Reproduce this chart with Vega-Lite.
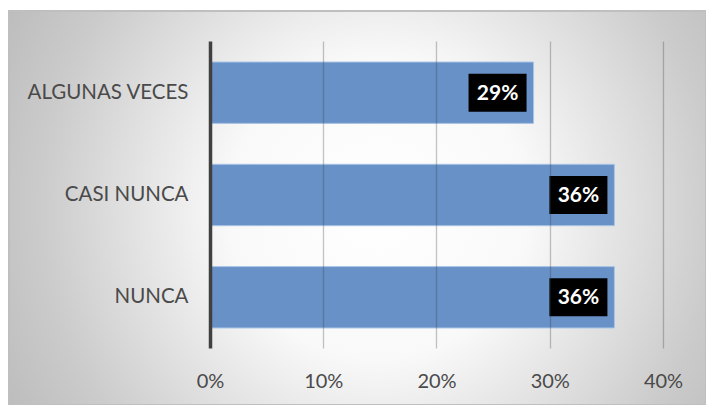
{
  "$schema": "https://vega.github.io/schema/vega-lite/v6.json",
  "width": 697,
  "height": 394,
  "padding": {"left": 9, "top": 11, "right": 0, "bottom": 0},
  "autosize": {"type": "none"},
  "background": "white",
  "config": {
    "font": "Lato",
    "view": {
      "stroke": "#bfbfbf",
      "strokeWidth": 2,
      "fill": {
        "gradient": "radial",
        "x1": 0.53, "y1": 0.5, "r1": 0,
        "x2": 0.53, "y2": 0.5, "r2": 0.6,
        "stops": [
          {"offset": 0, "color": "#ffffff"},
          {"offset": 0.36, "color": "#f9f9f9"},
          {"offset": 0.81, "color": "#cbcbcb"},
          {"offset": 1, "color": "#bdbdbd"}
        ]
      }
    }
  },
  "data": {
    "values": [
      {"cat": "ALGUNAS VECES", "value": 0.2857},
      {"cat": "CASI NUNCA", "value": 0.3571},
      {"cat": "NUNCA", "value": 0.3571}
    ]
  },
  "resolve": {"axis": {"x": "independent"}},
  "layer": [
    {
      "mark": {"type": "bar", "color": "#6891c7", "stroke": "#a9c4e6", "strokeWidth": 1},
      "encoding": {
        "y": {
          "field": "cat", "type": "nominal", "sort": null,
          "scale": {"paddingInner": 0.4, "paddingOuter": 0.6257, "align": 0.3984},
          "axis": {
            "title": null, "orient": "left", "offset": -179, "labelPadding": 0,
            "ticks": false, "domain": false, "grid": false,
            "labelFontSize": 20.5, "labelColor": "#4a4a4a", "labelFont": "Lato",
            "labelBaseline": "middle", "labelLimit": 300
          }
        },
        "x": {
          "field": "value", "type": "quantitative",
          "scale": {"domain": [-0.17748, 0.43797], "nice": false, "zero": false},
          "axis": {
            "orient": "top", "offset": -30, "values": [0, 0.1, 0.2, 0.3, 0.4],
            "labels": false, "domain": false, "grid": false, "title": null,
            "tickSize": -307, "zindex": 1,
            "tickColor": {"condition": {"test": "datum.value === 0", "value": "#404040"}, "value": "#3a3a3a"},
            "tickOpacity": {"condition": {"test": "datum.value === 0", "value": 1}, "value": 0.3},
            "tickWidth": {"condition": {"test": "datum.value === 0", "value": 3.5}, "value": 1.3}
          }
        },
        "x2": {"datum": 0}
      }
    },
    {
      "mark": {
        "type": "point",
        "shape": "M-1,-0.655L1,-0.655L1,0.655L-1,0.655Z",
        "size": 3364,
        "filled": true,
        "color": "black",
        "opacity": 1,
        "xOffset": -36
      },
      "encoding": {
        "y": {"field": "cat", "type": "nominal", "sort": null},
        "x": {
          "field": "value", "type": "quantitative",
          "axis": {
            "orient": "bottom", "offset": -57, "values": [0, 0.1, 0.2, 0.3, 0.4],
            "format": ".0%", "ticks": false, "domain": false, "grid": false, "title": null,
            "labelPadding": 39, "labelBaseline": "alphabetic",
            "labelFontSize": 20, "labelColor": "#4a4a4a", "labelFont": "Lato"
          }
        }
      }
    },
    {
      "mark": {
        "type": "text", "color": "white", "font": "Lato", "fontWeight": "bold",
        "fontSize": 21, "dx": -36, "dy": 1, "align": "center", "baseline": "middle"
      },
      "encoding": {
        "y": {"field": "cat", "type": "nominal", "sort": null},
        "x": {"field": "value", "type": "quantitative", "axis": null},
        "text": {"field": "value", "type": "quantitative", "format": ".0%"}
      }
    }
  ]
}
